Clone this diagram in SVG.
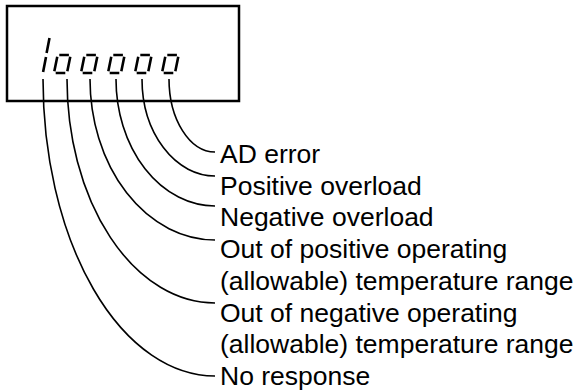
<svg xmlns="http://www.w3.org/2000/svg" width="577" height="392" viewBox="0 0 577 392">
<style>
.seg{fill:none;stroke:#000;stroke-width:2.6;stroke-linecap:butt}
.lead{fill:none;stroke:#000;stroke-width:1.6}
.lbl{font-family:"Liberation Sans",Arial,sans-serif;font-size:26.5px;fill:#000}
</style>
<defs>
<g id="o">
<path class="seg" d="M5.3,0 L14.9,0 M16.27,1.67 L13.33,16.33 M11.3,18 L1.7,18 M0.33,16.33 L3.27,1.67"/>
</g>
</defs>
<rect x="0" y="0" width="577" height="392" fill="#fff"/>
<g id="display">
<rect x="7" y="6" width="232" height="95" fill="none" stroke="#000" stroke-width="2.5"/>
<path class="seg" d="M49.5,38 L46.6,53 M46,57 L43.1,72"/>
<use href="#o" transform="translate(54,55)"/>
<use href="#o" transform="translate(81,55)"/>
<use href="#o" transform="translate(108,55)"/>
<use href="#o" transform="translate(135,55)"/>
<use href="#o" transform="translate(162,55)"/>
</g>
<g id="connectors">
<path class="lead" d="M169,79 A46,73 0 0 0 215,152"/>
<path class="lead" d="M142,79 A73,97 0 0 0 215,176"/>
<path class="lead" d="M116,79 A99,127 0 0 0 215,206"/>
<path class="lead" d="M90,79 A125,161 0 0 0 215,240"/>
<path class="lead" d="M67,79 A148,224 0 0 0 215,303"/>
<path class="lead" d="M43,79 A172,297 0 0 0 215,376"/>
</g>
<g id="labels">
<text class="lbl" x="220" y="163">AD error</text>
<text class="lbl" x="220" y="194.7">Positive overload</text>
<text class="lbl" x="220" y="226.4">Negative overload</text>
<text class="lbl" x="220" y="258.1">Out of positive operating</text>
<text class="lbl" x="220" y="289.9">(allowable) temperature range</text>
<text class="lbl" x="220" y="321.6">Out of negative operating</text>
<text class="lbl" x="220" y="353.3">(allowable) temperature range</text>
<text class="lbl" x="220" y="385">No response</text>
</g>
</svg>
